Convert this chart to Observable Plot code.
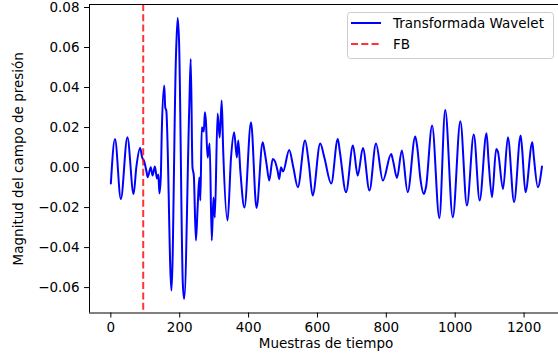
<!DOCTYPE html>
<html>
<head>
<meta charset="utf-8">
<script src="https://cdn.jsdelivr.net/npm/d3@7"></script>
<script src="https://cdn.jsdelivr.net/npm/@observablehq/plot@0.6"></script>
<style>
  html, body { margin: 0; padding: 0; background: white; }
  #chart svg { display: block; }
</style>
</head>
<body>
<div id="chart"></div>
<script>
// Sample index (Muestras de tiempo)
const sampleIdx = [
  0, 12, 29, 48, 66, 74, 85, 91, 97, 103, 107, 116, 121, 128, 134, 138, 141, 145,
  148, 155, 158, 161, 176, 189, 194, 198, 209, 213, 228, 232, 237, 241, 247, 252,
  257, 260, 264, 270, 273, 276, 281, 287, 293, 298, 302, 310, 316, 322, 326, 339,
  349, 358, 366, 370, 376, 388, 407, 423, 441, 446, 452, 460, 470, 477, 484, 489,
  494, 500, 518, 530, 543, 564, 575, 586, 608, 620, 640, 659, 665, 683, 703, 717,
  732, 751, 770, 790, 814, 820, 831, 845, 862, 884, 890, 899, 909, 915, 933, 954,
  971, 993, 1015, 1034, 1054, 1071, 1091, 1097, 1107, 1119, 1124, 1139, 1153, 1171,
  1190, 1194, 1204, 1224, 1228, 1240, 1252
];
// Magnitude of the wavelet-transformed pressure field
const magnitude = [
  -0.008, 0.0143, -0.0157, 0.0152, -0.0132, 0.0002, 0.0098, 0.005, 0.003, -0.0015, -0.0048, 0.0002, -0.004, 0.0005, -0.0055, -0.0035, -0.013, -0.005,
  0.0185, 0.041, 0.030, 0.0285, -0.0615, 0.055, 0.0748, 0.0635, -0.058, -0.0656, 0.032, 0.0543, 0.0002, -0.004, -0.0365, -0.02,
  -0.005, -0.0165, 0.0202, 0.018, 0.0277, 0.0235, 0.005, 0.012, -0.0365, -0.015, -0.025, 0.027, 0.015, 0.0335, 0.010, -0.0265,
  0.005, 0.0177, 0.005, 0.0135, -0.0015, -0.02, 0.0227, -0.0202, 0.0127, 0.0085, 0.002, -0.0065, 0.0043, 0.003, -0.0015, -0.0057,
  0.0002, -0.002, 0.0088, 0.0, -0.0098, 0.0135, 0.002, -0.014, 0.012, 0.005, -0.008, 0.0143, 0.008, -0.0123, 0.011, -0.004,
  0.0098, -0.0115, 0.012, -0.0065, 0.0068, 0.003, -0.0052, 0.0085, -0.0123, 0.0155, 0.010, -0.0057, -0.0132, -0.010, 0.021, -0.0253,
  0.0288, -0.0248, 0.0232, -0.019, 0.0165, -0.0165, 0.0172, 0.003, -0.0148, 0.0093, 0.008, -0.0107, 0.0152, -0.0173,
  0.016, 0.010, -0.0123, 0.0127, 0.006, -0.0098, 0.0005
];
const fbSample = [94];
const xTicks = [0, 200, 400, 600, 800, 1000, 1200];
const yTicks = [-0.06, -0.04, -0.02, 0.00, 0.02, 0.04, 0.06, 0.08];
const xLabel = "Muestras de tiempo";
const yLabel = "Magnitud del campo de presión";
const seriesNames = ["Transformada Wavelet", "FB"];

const data = sampleIdx.map((s, i) => ({sample: s, value: magnitude[i]}));
const xDomain = [-62, 1300];
const yDomain = [-0.0727, 0.0815];

const chart = Plot.plot({
  width: 558,
  height: 362,
  marginLeft: 89,
  marginRight: 0,
  marginTop: 4,
  marginBottom: 49.5,
  style: {fontFamily: "DejaVu Sans", fontSize: "13.5px", color: "black", background: "white"},
  x: {domain: xDomain},
  y: {domain: yDomain},
  marks: [
    Plot.line(data, {x: "sample", y: "value", stroke: "blue", strokeWidth: 2, curve: "monotone-x"}),
    Plot.ruleX(fbSample, {stroke: "red", strokeOpacity: 0.8, strokeWidth: 2, strokeDasharray: "7,3.3"}),
    Plot.ruleX([xDomain[0]], {stroke: "black", strokeWidth: 1}),
    Plot.ruleY(yDomain, {stroke: "black", strokeWidth: 1}),
    Plot.axisX({ticks: xTicks, tickSize: 5, tickPadding: 4, label: null, tickFormat: d => String(d)}),
    Plot.axisY({ticks: yTicks, tickSize: 5, tickPadding: 5, label: null, tickFormat: d3.format(".2f")}),
    Plot.text([xLabel], {text: d => d, frameAnchor: "bottom", textAnchor: "middle", lineAnchor: "middle", dy: 31, dx: 2, fill: "black"}),
    Plot.text([yLabel], {text: d => d, frameAnchor: "left", textAnchor: "middle", lineAnchor: "middle", rotate: -90, dx: -71, fill: "black"})
  ]
});

document.getElementById("chart").appendChild(chart);

// Legend (upper right, matplotlib style)
const svg = d3.select(chart);
const lg = svg.append("g").attr("font-family", "DejaVu Sans").attr("font-size", "13.5px");
lg.append("rect")
  .attr("x", 347.5).attr("y", 12.5).attr("width", 206).attr("height", 46)
  .attr("rx", 3).attr("fill", "white").attr("fill-opacity", 0.8)
  .attr("stroke", "#cccccc").attr("stroke-width", 1);
const legendItems = [
  {name: seriesNames[0], stroke: "blue", opacity: 1, dash: null, y: 23},
  {name: seriesNames[1], stroke: "red", opacity: 0.8, dash: "7,3.3", y: 44}
];
legendItems.forEach(it => {
  lg.append("line")
    .attr("x1", 351).attr("x2", 381).attr("y1", it.y).attr("y2", it.y)
    .attr("stroke", it.stroke).attr("stroke-opacity", it.opacity)
    .attr("stroke-width", 2).attr("stroke-dasharray", it.dash);
  lg.append("text")
    .attr("x", 393).attr("y", it.y).attr("dy", "0.35em")
    .attr("text-anchor", "start")
    .attr("fill", "black").text(it.name);
});
</script>
</body>
</html>
